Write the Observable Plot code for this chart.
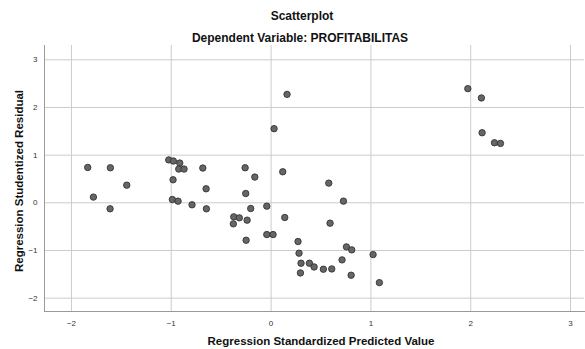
<!DOCTYPE html>
<html>
<head>
<meta charset="utf-8">
<script src="https://cdn.jsdelivr.net/npm/d3@7"></script>
<script src="https://cdn.jsdelivr.net/npm/@observablehq/plot@0.6"></script>
<style>
  body { margin: 0; background: #fff; }
  #wrap { position: relative; width: 585px; height: 349px; font-family: "Liberation Sans", Arial, sans-serif; }
  .t { position: absolute; font-weight: bold; font-size: 12px; color: #111; white-space: nowrap; line-height: 14px; }
  #wrap svg { position: absolute; left: 0; top: 0; font-family: "Liberation Sans", Arial, sans-serif; }
</style>
</head>
<body>
<div id="wrap"></div>
<script>
const titleText = "Scatterplot";
const subtitleText = "Dependent Variable: PROFITABILITAS";
const xTitle = "Regression Standardized Predicted Value";
const yTitle = "Regression Studentized Residual";

const xTicks = [-2, -1, 0, 1, 2, 3];
const yTicks = [-2, -1, 0, 1, 2, 3];
const xDomain = [-2.27, 3.14];
const yDomain = [-2.28, 3.3];

const predicted = [
  -1.837, -1.61, -1.446, -1.78, -1.613,
  -1.025, -0.979, -0.915, -0.925, -0.872, -0.684, -0.982, -0.651, -0.989, -0.932, -0.792, -0.648,
  -0.26, -0.163, -0.254, -0.204, -0.043, 0.03, -0.374, -0.318, -0.378, -0.24, -0.25, -0.043, 0.02,
  0.16, 0.117, 0.578, 0.725, 0.137, 0.591, 0.27, 0.28, 0.755, 0.808, 1.022, 0.30, 0.384, 0.431,
  0.711, 0.524, 0.608, 0.294, 0.802, 1.085,
  1.971, 2.107, 2.114, 2.238, 2.298
];
const residual = [
  0.742, 0.735, 0.37, 0.12, -0.126,
  0.90, 0.876, 0.834, 0.708, 0.708, 0.729, 0.483, 0.294, 0.069, 0.035, -0.042, -0.126,
  0.735, 0.54, 0.195, -0.12, -0.07, 1.555, -0.294, -0.315, -0.441, -0.364, -0.785, -0.666, -0.666,
  2.275, 0.651, 0.413, 0.035, -0.308, -0.427, -0.812, -1.057, -0.924, -0.987, -1.086, -1.267, -1.267, -1.345,
  -1.197, -1.393, -1.387, -1.471, -1.519, -1.674,
  2.395, 2.2, 1.47, 1.26, 1.246
];

const data = predicted.map((x, i) => ({x, y: residual[i]}));

const chart = Plot.plot({
  width: 585,
  height: 349,
  marginTop: 45,
  marginBottom: 38,
  marginLeft: 44,
  marginRight: 1,
  style: {fontFamily: "Liberation Sans, Arial, sans-serif", background: "transparent"},
  x: {domain: xDomain, ticks: xTicks, label: null},
  y: {domain: yDomain, ticks: yTicks, label: null},
  marks: [
    Plot.gridX(xTicks, {stroke: "#cccccc", strokeOpacity: 1, strokeWidth: 1}),
    Plot.gridY(yTicks, {stroke: "#cccccc", strokeOpacity: 1, strokeWidth: 1}),
    Plot.frame({anchor: "left", stroke: "#9a9a9a"}),
    Plot.frame({anchor: "bottom", stroke: "#9a9a9a"}),
    Plot.axisX(xTicks, {tickSize: 0, tickPadding: 9, fontSize: 8, fill: "#333", label: null}),
    Plot.axisY(yTicks, {tickSize: 0, tickPadding: 7, fontSize: 8, fill: "#333", label: null}),
    Plot.dot(data, {x: "x", y: "y", r: 3.2, fill: "#666", stroke: "#333", strokeWidth: 0.9})
  ]
});

const wrap = document.getElementById("wrap");
wrap.appendChild(chart);

function addText(txt, css) {
  const d = document.createElement("div");
  d.className = "t";
  d.textContent = txt;
  Object.assign(d.style, css);
  wrap.appendChild(d);
  return d;
}
addText(titleText, {left: "302px", top: "9px", transform: "translateX(-50%)"});
addText(subtitleText, {left: "300px", top: "31px", transform: "translateX(-50%)"});
addText(xTitle, {left: "321px", top: "334px", fontSize: "11.5px", transform: "translateX(-50%)"});
addText(yTitle, {left: "19px", top: "181px", fontSize: "11.5px", transform: "translate(-50%, -50%) rotate(-90deg)"});
</script>
</body>
</html>
